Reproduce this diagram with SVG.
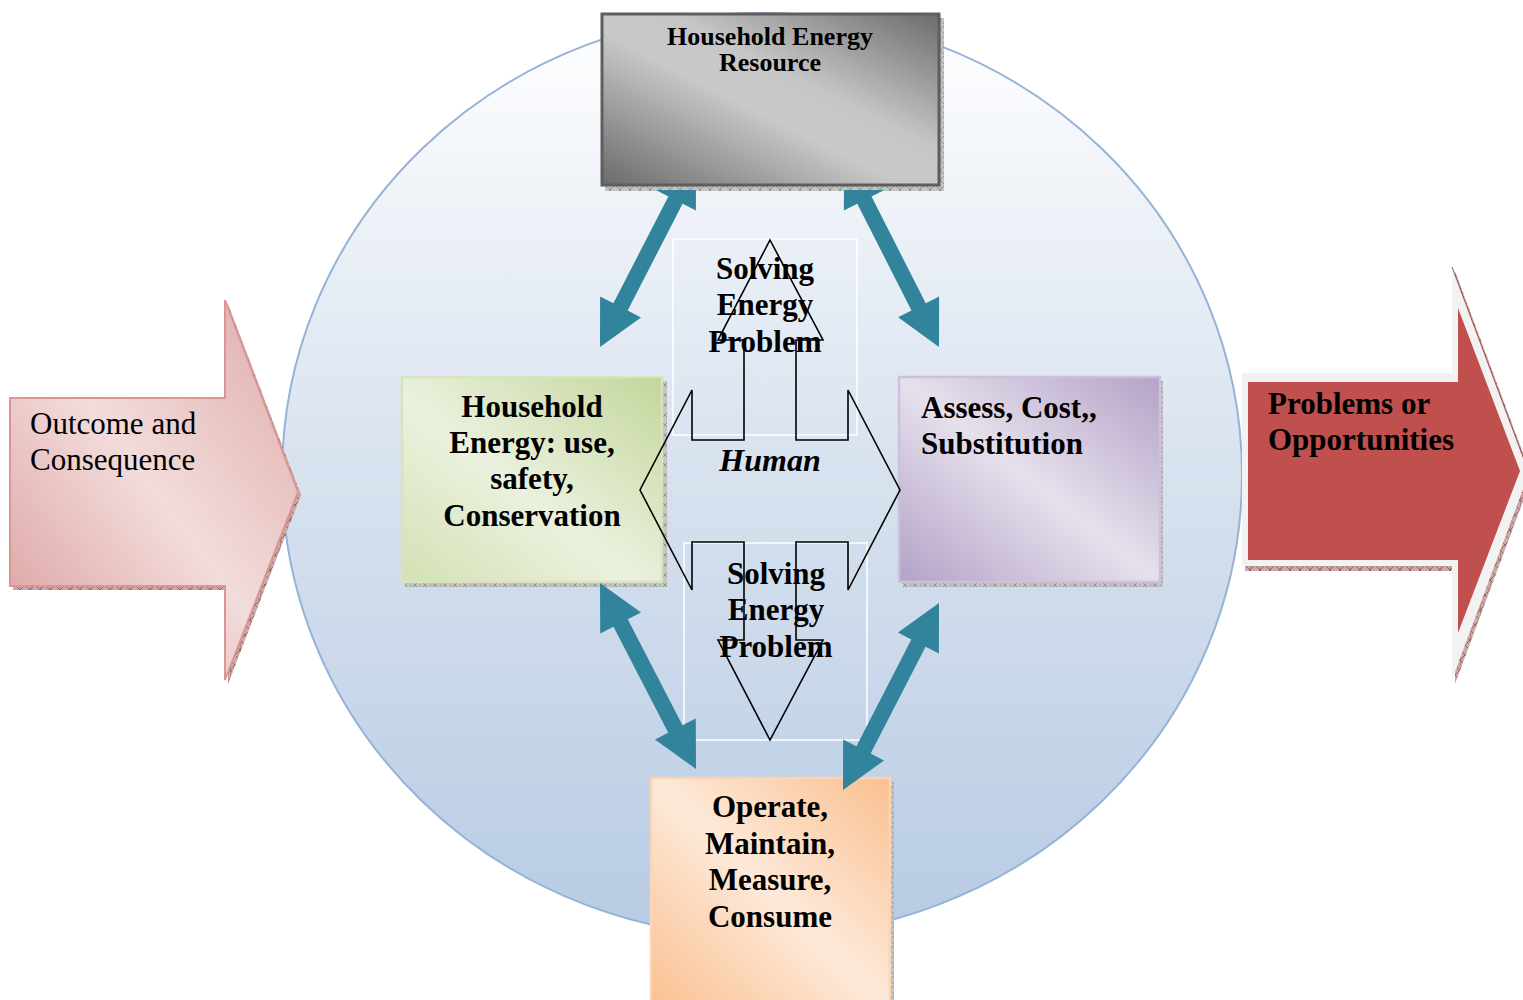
<svg xmlns="http://www.w3.org/2000/svg" width="1523" height="1000" viewBox="0 0 1523 1000">
<defs>
<style>
.b{font-family:"Liberation Serif","Times New Roman",serif;font-weight:bold;fill:#000}
.r{font-family:"Liberation Serif","Times New Roman",serif;fill:#000}
.c{text-anchor:middle}
.teal{fill:#31849b}
.tb{fill:none;stroke:#ffffff;stroke-width:1.5}
</style>
<linearGradient id="gCircle" x1="0" y1="0" x2="0" y2="1">
<stop offset="0" stop-color="#ffffff"/>
<stop offset="0.45" stop-color="#dbe4f0"/>
<stop offset="1" stop-color="#b7cbe4"/>
</linearGradient>
<linearGradient id="gGray" x1="0" y1="1" x2="1" y2="0">
<stop offset="0" stop-color="#6a6a6a"/>
<stop offset="0.45" stop-color="#c9c9c9"/>
<stop offset="0.6" stop-color="#c6c6c6"/>
<stop offset="1" stop-color="#6c6c6c"/>
</linearGradient>
<linearGradient id="gGreen" x1="0" y1="1" x2="1" y2="0">
<stop offset="0" stop-color="#d3e1b4"/>
<stop offset="0.45" stop-color="#ebf1de"/>
<stop offset="1" stop-color="#c3d69b"/>
</linearGradient>
<linearGradient id="gPurple" x1="0" y1="1" x2="1" y2="0">
<stop offset="0" stop-color="#b3a2c7"/>
<stop offset="0.5" stop-color="#e6e0ec"/>
<stop offset="1" stop-color="#b3a2c7"/>
</linearGradient>
<linearGradient id="gOrange" x1="0" y1="1" x2="1" y2="0">
<stop offset="0" stop-color="#fac090"/>
<stop offset="0.5" stop-color="#fde9d9"/>
<stop offset="1" stop-color="#fac090"/>
</linearGradient>
<linearGradient id="gPink" x1="0" y1="1" x2="1" y2="0">
<stop offset="0" stop-color="#d99b9a"/>
<stop offset="0.5" stop-color="#f2dcdb"/>
<stop offset="1" stop-color="#ddaaa9"/>
</linearGradient>
<pattern id="hatch" width="10" height="10" patternUnits="userSpaceOnUse">
<rect width="10" height="10" fill="#c4c4c4"/>
<path d="M0 0V10M0 0L10 10M10 0L0 10" stroke="#8a8a8a" stroke-width="0.8"/>
</pattern>
<pattern id="hatchR" width="10" height="10" patternUnits="userSpaceOnUse">
<rect width="10" height="10" fill="#c9a9a8"/>
<path d="M0 0V10M0 0L10 10M10 0L0 10" stroke="#8c5553" stroke-width="0.8"/>
</pattern>
<clipPath id="belowTop"><rect x="0" y="190" width="1523" height="810"/></clipPath>
</defs>

<g id="background-circle">
<ellipse cx="762" cy="475" rx="480" ry="462" fill="url(#gCircle)" stroke="#95b3d7" stroke-width="2"/>
</g>

<g id="node-outcome">
<polygon points="13,402 228,402 228,304 301,495 228,684 228,590 13,590" fill="url(#hatchR)"/>
<polygon points="10,398 225,398 225,300 298,492 225,680 225,586 10,586" fill="url(#gPink)" stroke="#d99694" stroke-width="2"/>
<text class="r" font-size="31" x="30" y="434">Outcome and</text>
<text class="r" font-size="31" x="30" y="470">Consequence</text>
</g>

<g id="node-problems">
<polygon points="1245,377 1455,377 1455,271 1532,477 1455,684 1455,571 1245,571" fill="url(#hatchR)"/>
<polygon points="1242,373 1452,373 1452,267 1529,473 1452,680 1452,566 1242,566" fill="#f2f2f2"/>
<line x1="1452" y1="267" x2="1529" y2="473" stroke="#a05050" stroke-width="1"/>
<polygon points="1248,382 1458,382 1458,308 1520,471 1458,633 1458,560 1248,560" fill="#c0504d"/>
<text class="b" font-size="31" x="1268" y="414">Problems or</text>
<text class="b" font-size="31" x="1268" y="450">Opportunities</text>
</g>

<g id="node-resource">
<rect x="605" y="18" width="339" height="173" fill="url(#hatch)"/>
<rect x="602" y="14" width="337" height="171" fill="url(#gGray)" stroke="#5e5e5e" stroke-width="3"/>
<text class="b c" font-size="26" x="770" y="45">Household Energy</text>
<text class="b c" font-size="26" x="770" y="71">Resource</text>
</g>

<g id="node-household">
<rect x="405" y="381" width="262" height="206" fill="url(#hatch)"/>
<rect x="402" y="377" width="260" height="205" fill="url(#gGreen)" stroke="#d7e4bd" stroke-width="2.5"/>
<text class="b c" font-size="31" x="532" y="417">Household</text>
<text class="b c" font-size="31" x="532" y="453">Energy: use,</text>
<text class="b c" font-size="31" x="532" y="489">safety,</text>
<text class="b c" font-size="31" x="532" y="526">Conservation</text>
</g>

<g id="node-assess">
<rect x="903" y="381" width="260" height="206" fill="url(#hatch)"/>
<rect x="899" y="377" width="261" height="205" fill="url(#gPurple)" stroke="#ccc1da" stroke-width="2.5"/>
<text class="b" font-size="31" x="921" y="418">Assess, Cost,,</text>
<text class="b" font-size="31" x="921" y="454">Substitution</text>
</g>

<g id="node-operate">
<rect x="654" y="782" width="240" height="230" fill="url(#hatch)"/>
<rect x="651" y="778" width="239" height="230" fill="url(#gOrange)" stroke="#fbd4b4" stroke-width="2.5"/>
<text class="b c" font-size="31" x="770" y="817">Operate,</text>
<text class="b c" font-size="31" x="770" y="854">Maintain,</text>
<text class="b c" font-size="31" x="770" y="890">Measure,</text>
<text class="b c" font-size="31" x="770" y="927">Consume</text>
</g>

<g id="node-human">
<rect class="tb" x="673" y="239" width="184" height="196"/>
<rect class="tb" x="684" y="543" width="183" height="197"/>
<polygon points="770,240 823,340 796,340 796,440 848,440 848,390 900,490 848,590 848,542 796,542 796,640 823,640 770,740 718,640 744,640 744,542 692,542 692,590 640,490 692,390 692,440 744,440 744,340 718,340" fill="none" stroke="#000" stroke-width="1.6" stroke-linejoin="miter"/>
<text class="b" font-size="32" font-style="italic" x="770" y="471" text-anchor="middle">Human</text>
<text class="b c" font-size="31" x="765" y="279">Solving</text>
<text class="b c" font-size="31" x="765" y="315">Energy</text>
<text class="b c" font-size="31" x="765" y="352">Problem</text>
<text class="b c" font-size="31" x="776" y="584">Solving</text>
<text class="b c" font-size="31" x="776" y="620">Energy</text>
<text class="b c" font-size="31" x="776" y="657">Problem</text>
</g>

<g id="connectors">
<g clip-path="url(#belowTop)">
<polygon class="teal" points="600,347 641.01,317.47 627.67,310.62 682.57,203.68 695.91,210.53 696,160 654.99,189.53 668.33,196.38 613.43,303.32 600.09,296.47"/>
<polygon class="teal" points="939,347 939.12,296.46 925.75,303.26 871.51,196.5 884.88,189.7 844,160 843.88,210.54 857.25,203.74 911.49,310.5 898.12,317.3"/>
</g>
<polygon class="teal" points="600,583 600.2,633.54 613.53,626.66 668.25,732.68 654.92,739.56 696,769 695.8,718.46 682.47,725.34 627.75,619.32 641.08,612.44"/>
<polygon class="teal" points="939,603 897.99,632.53 911.33,639.38 856.43,746.32 843.09,739.47 843,790 884.01,760.47 870.67,753.62 925.57,646.68 938.91,653.53"/>
</g>
</svg>
